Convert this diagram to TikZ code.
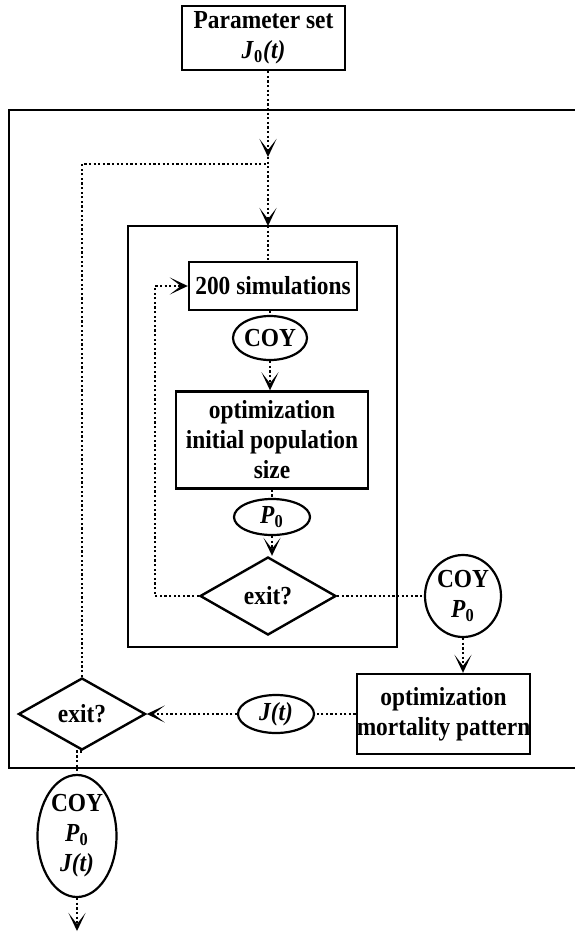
\documentclass[tikz,border=0pt]{standalone}
\usepackage{fontspec}
\setmainfont{Liberation Serif}[FakeStretch=0.9]
\usetikzlibrary{shapes.geometric, arrows.meta, positioning}

\tikzset{
  box/.style={draw, line width=1.2pt, rectangle, inner sep=0pt, align=center},
  oval/.style={draw, line width=1.1pt, ellipse, inner sep=0pt, align=center},
  test/.style={draw, line width=1.2pt, diamond, inner sep=0pt},
  flow/.style={line width=1.3pt, dash pattern=on 1.1pt off 1.2pt},
  flowto/.style={-{Stealth[length=9pt, width=8.5pt, inset=5.5pt]}},
}

\begin{document}
\begin{tikzpicture}[x=0.5pt, y=-0.5pt, font=\fontsize{13}{15}\selectfont\bfseries]
  \useasboundingbox (0,0) rectangle (574,933);

  % outer loop frame (open on the right) and inner loop frame
  \draw[line width=1.3pt] (580,110) -- (9,110) -- (9,768) -- (580,768);
  \draw[line width=1.2pt] (128,226) rectangle (397,647);

  \node[box, minimum width=81.5pt, minimum height=32pt] (param) at (263.5,38) {Parameter set\\\textit{J}\textsubscript{0}\textit{(t)}};

  % inner loop
  \node[box, minimum width=84pt, minimum height=24pt] (sim) at (273,286) {200 simulations};
  \node[oval, minimum width=37pt, minimum height=22pt] (coy) at (270,338) {COY};
  \node[box, minimum width=96pt, minimum height=48.5pt] (optp) at (272,440) {optimization\\initial population\\size};
  \node[oval, minimum width=38pt, minimum height=18pt] (pzero) at (272,517) {\textit{P}\textsubscript{0}};
  \node[test, minimum width=68pt, minimum height=39pt] (exitin) at (268,596) {exit?};

  % outer loop
  \node[oval, minimum width=38pt, minimum height=41pt] (coyp) at (463,596) {COY\\\textit{P}\textsubscript{0}};
  \node[box, minimum width=76.5pt, minimum height=40pt] (optm) at (443.5,714) {optimization\\mortality pattern};
  \node[oval, minimum width=38pt, minimum height=19pt] (jt) at (276,714) {\textit{J(t)}};
  \node[test, minimum width=63.5pt, minimum height=36pt] (exitout) at (82,714) {exit?};

  \node[oval, minimum width=39.5pt, minimum height=61pt] (result) at (77,836) {COY\\\textit{P}\textsubscript{0}\\\textit{J(t)}};

  \coordinate (enter) at (268,157);
  \coordinate (join) at (268,164);
  \coordinate (innertop) at (268,226);
  \coordinate (backin) at (155,287);
  \coordinate (out) at (80,931);

  % connectors
  \draw[flow, flowto] (param.south -| join) -- (enter);
  \draw[flow, flowto] (enter) -- (innertop);
  \draw[flow] (innertop) -- (join |- sim.north);
  \draw[flow] (exitout.north) |- (join);
  \draw[flow] (sim.south -| coy.north) -- (coy.north);
  \draw[flow, flowto] (coy.south) -- (coy.south |- optp.north);
  \draw[flow] (optp.south -| pzero.north) -- (pzero.north);
  \draw[flow, flowto] (pzero.south) -- (pzero.south |- exitin.north);
  \draw[flow, flowto] (exitin.west) -| (backin) |- (sim.west);
  \draw[flow] (exitin.east) -- (coyp.west);
  \draw[flow, flowto] (coyp.south) -- (coyp.south |- optm.north);
  \draw[flow] (optm.west) -- (jt.east);
  \draw[flow, flowto] (jt.west) -- (exitout.east);
  \draw[flow] (exitout.south) -- (exitout.south -| result.north) -- (result.north);
  \draw[flow, flowto] (result.south) -- (result.south |- out);
\end{tikzpicture}
\end{document}
